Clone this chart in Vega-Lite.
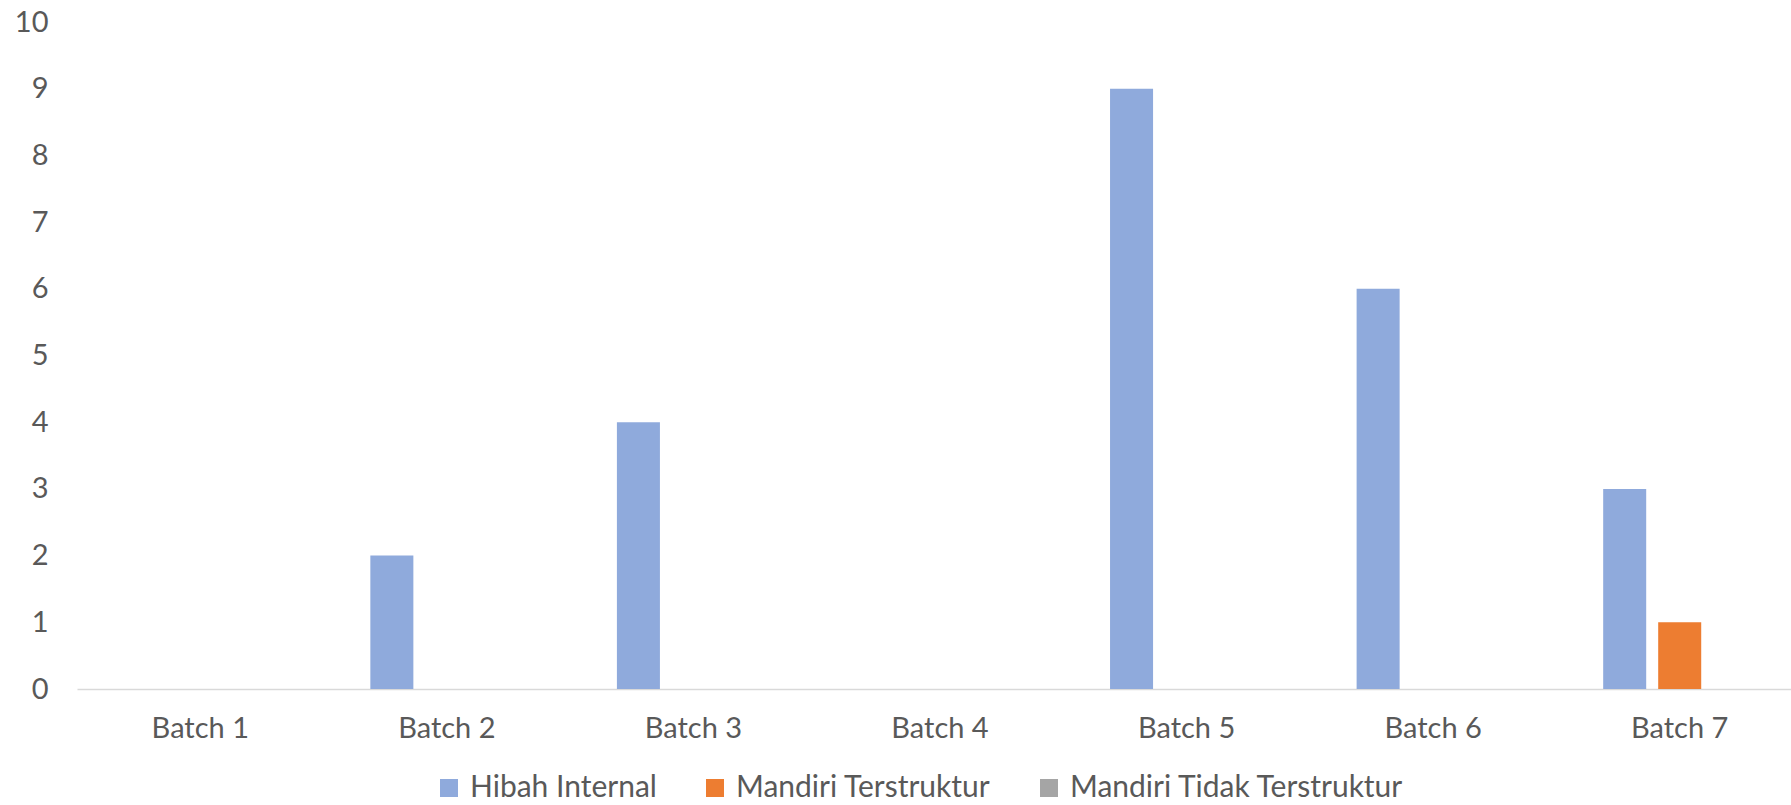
{
  "$schema": "https://vega.github.io/schema/vega-lite/v6.json",
  "autosize": "none",
  "padding": {"left": 77, "top": 22, "right": 0, "bottom": 116},
  "width": 1726,
  "height": 667,
  "background": "white",
  "config": {
    "view": {"stroke": null},
    "font": "Lato",
    "axis": {"labelFont": "Lato", "labelColor": "#595959"},
    "legend": {"labelFont": "Lato", "labelColor": "#595959"}
  },
  "data": {
    "values": [
      {"batch": "Batch 1", "series": "Hibah Internal", "value": 0},
      {"batch": "Batch 1", "series": "Mandiri Terstruktur", "value": 0},
      {"batch": "Batch 1", "series": "Mandiri Tidak Terstruktur", "value": 0},
      {"batch": "Batch 2", "series": "Hibah Internal", "value": 2},
      {"batch": "Batch 2", "series": "Mandiri Terstruktur", "value": 0},
      {"batch": "Batch 2", "series": "Mandiri Tidak Terstruktur", "value": 0},
      {"batch": "Batch 3", "series": "Hibah Internal", "value": 4},
      {"batch": "Batch 3", "series": "Mandiri Terstruktur", "value": 0},
      {"batch": "Batch 3", "series": "Mandiri Tidak Terstruktur", "value": 0},
      {"batch": "Batch 4", "series": "Hibah Internal", "value": 0},
      {"batch": "Batch 4", "series": "Mandiri Terstruktur", "value": 0},
      {"batch": "Batch 4", "series": "Mandiri Tidak Terstruktur", "value": 0},
      {"batch": "Batch 5", "series": "Hibah Internal", "value": 9},
      {"batch": "Batch 5", "series": "Mandiri Terstruktur", "value": 0},
      {"batch": "Batch 5", "series": "Mandiri Tidak Terstruktur", "value": 0},
      {"batch": "Batch 6", "series": "Hibah Internal", "value": 6},
      {"batch": "Batch 6", "series": "Mandiri Terstruktur", "value": 0},
      {"batch": "Batch 6", "series": "Mandiri Tidak Terstruktur", "value": 0},
      {"batch": "Batch 7", "series": "Hibah Internal", "value": 3},
      {"batch": "Batch 7", "series": "Mandiri Terstruktur", "value": 1},
      {"batch": "Batch 7", "series": "Mandiri Tidak Terstruktur", "value": 0}
    ]
  },
  "mark": {"type": "bar"},
  "encoding": {
    "x": {
      "field": "batch",
      "type": "nominal",
      "sort": null,
      "scale": {"paddingInner": 0.3793, "paddingOuter": 0.1897},
      "axis": {
        "title": null,
        "labelAngle": 0,
        "labelFontSize": 29,
        "labelPadding": 25,
        "ticks": false,
        "domainColor": "#D9D9D9",
        "domainWidth": 1.5,
        "grid": false
      }
    },
    "xOffset": {
      "field": "series",
      "type": "nominal",
      "sort": ["Hibah Internal", "Mandiri Terstruktur", "Mandiri Tidak Terstruktur"],
      "scale": {"paddingInner": 0.218, "paddingOuter": 0}
    },
    "y": {
      "field": "value",
      "type": "quantitative",
      "scale": {"domain": [0, 10], "nice": false},
      "axis": {
        "title": null,
        "values": [0, 1, 2, 3, 4, 5, 6, 7, 8, 9, 10],
        "labelFontSize": 29,
        "labelPadding": 29,
        "ticks": false,
        "domain": false,
        "grid": false
      }
    },
    "color": {
      "field": "series",
      "type": "nominal",
      "sort": ["Hibah Internal", "Mandiri Terstruktur", "Mandiri Tidak Terstruktur"],
      "scale": {
        "domain": ["Hibah Internal", "Mandiri Terstruktur", "Mandiri Tidak Terstruktur"],
        "range": ["#8FAADC", "#ED7D31", "#A5A5A5"]
      },
      "legend": {
        "title": null,
        "orient": "none",
        "direction": "horizontal",
        "legendX": 357,
        "legendY": 751,
        "symbolType": "square",
        "symbolSize": 324,
        "symbolStrokeWidth": 0,
        "labelFontSize": 30,
        "labelLimit": 1000,
        "labelOffset": 6,
        "columnPadding": 43
      }
    }
  }
}
